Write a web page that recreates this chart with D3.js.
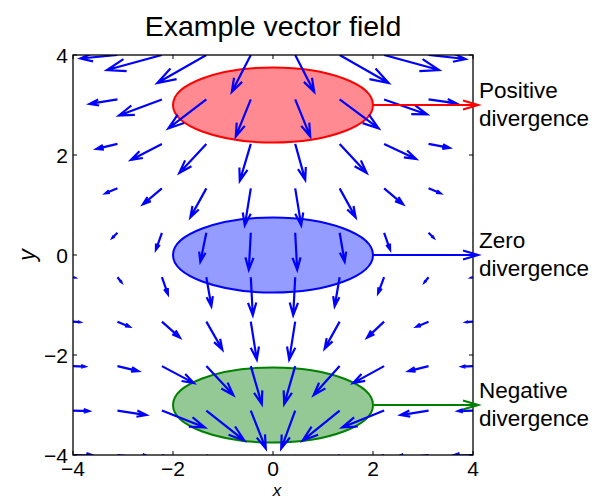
<!DOCTYPE html>
<html>
<head>
<meta charset="utf-8">
<script src="https://cdn.jsdelivr.net/npm/d3@7"></script>
<style>
  html, body { margin: 0; padding: 0; background: #fff; }
  svg { display: block; }
  text { font-family: "Liberation Sans", Arial, Helvetica, sans-serif; fill: #000; }
</style>
</head>
<body>
<svg id="chart" width="610" height="500"></svg>
<script>
// ---------- data ----------
const titleText = "Example vector field";
const xTicks = [-4, -2, 0, 2, 4];
const yTicks = [-4, -2, 0, 2, 4];
const gridX = [-4, -3.111, -2.222, -1.333, -0.444, 0.444, 1.333, 2.222, 3.111, 4];
const gridY = [4, 3.111, 2.222, 1.333, 0.444, -0.444, -1.333, -2.222, -3.111, -4];
// horizontal component, one row per gridY value (data units)
const U = [
  [-0.40, -0.74, -1.10, -0.98, -0.38, 0.38, 0.98, 1.10, 0.74, 0.40],
  [-0.32, -0.56, -0.86, -0.76, -0.30, 0.30, 0.78, 0.86, 0.56, 0.32],
  [-0.22, -0.42, -0.62, -0.54, -0.22, 0.20, 0.54, 0.64, 0.42, 0.22],
  [-0.14, -0.24, -0.38, -0.32, -0.12, 0.12, 0.32, 0.38, 0.24, 0.14],
  [-0.04, -0.10, -0.12, -0.12, -0.04, 0.04, 0.10, 0.12, 0.10, 0.04],
  [ 0.04,  0.08,  0.12,  0.10,  0.04, -0.04, -0.10, -0.12, -0.08, -0.04],
  [ 0.14,  0.24,  0.36,  0.32,  0.12, -0.12, -0.30, -0.34, -0.24, -0.14],
  [ 0.24,  0.42,  0.64,  0.54,  0.22, -0.22, -0.52, -0.62, -0.40, -0.22],
  [ 0.32,  0.58,  0.86,  0.76,  0.30, -0.28, -0.74, -0.84, -0.56, -0.30],
  [ 0.40,  0.74,  1.10,  0.98,  0.38, -0.38, -0.98, -1.10, -0.74, -0.40]
];
// vertical component, one row per gridY value (data units)
const V = [
  [-0.01, -0.07, -0.30, -0.56, -0.74, -0.74, -0.56, -0.30, -0.08, -0.01],
  [-0.01, -0.09, -0.32, -0.58, -0.74, -0.74, -0.58, -0.30, -0.08, -0.01],
  [-0.01, -0.10, -0.32, -0.58, -0.74, -0.72, -0.58, -0.30, -0.08, -0.01],
  [-0.01, -0.10, -0.32, -0.58, -0.74, -0.74, -0.58, -0.32, -0.10, -0.01],
  [-0.01, -0.10, -0.34, -0.58, -0.74, -0.74, -0.58, -0.34, -0.10, -0.01],
  [-0.01, -0.10, -0.34, -0.58, -0.76, -0.76, -0.58, -0.32, -0.10, -0.01],
  [-0.01, -0.10, -0.32, -0.56, -0.76, -0.76, -0.54, -0.32, -0.10, -0.01],
  [-0.01, -0.10, -0.34, -0.58, -0.76, -0.76, -0.58, -0.34, -0.10, -0.01],
  [-0.01, -0.09, -0.34, -0.60, -0.76, -0.76, -0.60, -0.34, -0.09, -0.01],
  [-0.01, -0.09, -0.34, -0.60, -0.76, -0.76, -0.60, -0.34, -0.09, -0.01]
];
const regionCenters = [3, 0, -3];
const regionRx = 2, regionRy = 0.75;
const regionFill = ["#ff8a92", "#949cff", "#94c894"];
const regionStroke = ["#ff0000", "#0000ff", "#008000"];
const regionLabels = [["Positive", "divergence"], ["Zero", "divergence"], ["Negative", "divergence"]];
const pointerEnd = 4.1;

// ---------- layout ----------
const svg = d3.select("#chart");
const L = 73, R = 473, T = 55, B = 455;
const x = d3.scaleLinear().domain([-4, 4]).range([L, R]);
const y = d3.scaleLinear().domain([-4, 4]).range([B, T]);
const fmt = d => (d < 0 ? "\u2212" + Math.abs(d) : String(d));

svg.append("defs").append("clipPath").attr("id", "plotclip")
  .append("rect").attr("x", L).attr("y", T).attr("width", R - L).attr("height", B - T);

// ellipses
const regions = regionCenters.map((c, i) => ({ c, i }));
svg.append("g").selectAll("ellipse").data(regions).join("ellipse")
  .attr("cx", x(0)).attr("cy", d => y(d.c))
  .attr("rx", x(regionRx) - x(0)).attr("ry", y(0) - y(regionRy))
  .attr("fill", d => regionFill[d.i])
  .attr("stroke", d => regionStroke[d.i])
  .attr("stroke-width", 2);

// quiver
const vecs = [];
gridY.forEach((gy, r) => gridX.forEach((gx, c) => vecs.push({ gx, gy, u: U[r][c], v: V[r][c] })));
const alpha = 0.33, beta = 0.33;
function arrowPath(d) {
  const x0 = x(d.gx), y0 = y(d.gy);
  const x1 = x(d.gx + d.u), y1 = y(d.gy + d.v);
  const du = x1 - x0, dv = y1 - y0;
  const h1x = x1 - alpha * (du + beta * dv), h1y = y1 - alpha * (dv - beta * du);
  const h2x = x1 - alpha * (du - beta * dv), h2y = y1 - alpha * (dv + beta * du);
  return `M${x0},${y0}L${x1},${y1}M${h1x},${h1y}L${x1},${y1}L${h2x},${h2y}`;
}
svg.append("g").attr("clip-path", "url(#plotclip)")
  .selectAll("path").data(vecs).join("path")
  .attr("d", arrowPath)
  .attr("fill", "none").attr("stroke", "#0000ff")
  .attr("stroke-width", 2.2).attr("stroke-linecap", "butt").attr("stroke-linejoin", "miter");

// frame
const frame = svg.append("g");
frame.append("rect").attr("x", L).attr("y", T).attr("width", R - L).attr("height", B - T)
  .attr("fill", "none").attr("stroke", "#000").attr("stroke-width", 1.3);

// ticks (inside, all four sides)
const tk = 4;
xTicks.forEach(t => {
  frame.append("line").attr("x1", x(t)).attr("x2", x(t)).attr("y1", B).attr("y2", B - tk).attr("stroke", "#000");
  frame.append("line").attr("x1", x(t)).attr("x2", x(t)).attr("y1", T).attr("y2", T + tk).attr("stroke", "#000");
});
yTicks.forEach(t => {
  frame.append("line").attr("x1", L).attr("x2", L + tk).attr("y1", y(t)).attr("y2", y(t)).attr("stroke", "#000");
  frame.append("line").attr("x1", R).attr("x2", R - tk).attr("y1", y(t)).attr("y2", y(t)).attr("stroke", "#000");
});
svg.append("g").selectAll("text").data(xTicks).join("text")
  .attr("x", d => x(d)).attr("y", B + 21).attr("text-anchor", "middle")
  .style("font-size", "21px").text(fmt);
svg.append("g").selectAll("text").data(yTicks).join("text")
  .attr("x", L - 5).attr("y", d => y(d) + 7.5).attr("text-anchor", "end")
  .style("font-size", "21px").text(fmt);

// pointer arrows and labels
const ptr = svg.append("g");
regions.forEach(d => {
  const yy = y(d.c), x0 = x(regionRx), x1 = x(pointerEnd);
  ptr.append("path")
    .attr("d", `M${x0},${yy}L${x1},${yy}M${x1 - 15},${yy - 4.5}L${x1},${yy}L${x1 - 15},${yy + 4.5}`)
    .attr("fill", "none").attr("stroke", regionStroke[d.i]).attr("stroke-width", 2.2);
  const t = ptr.append("text").attr("x", 479).attr("y", yy - 7).style("font-size", "22.5px");
  regionLabels[d.i].forEach((s, k) => {
    t.append("tspan").attr("x", 479).attr("dy", k === 0 ? 0 : 28).text(s);
  });
});

// title and axis labels
svg.append("text").attr("x", (L + R) / 2).attr("y", 36).attr("text-anchor", "middle")
  .style("font-size", "28.5px").text(titleText);
svg.append("text").attr("x", (L + R) / 2 + 4).attr("y", 496).attr("text-anchor", "middle")
  .style("font-size", "17px").style("font-style", "italic").text("x");
svg.append("text").attr("transform", `translate(35,${(T + B) / 2}) rotate(-90)`)
  .attr("text-anchor", "middle")
  .style("font-size", "23px").style("font-style", "italic").text("y");
</script>
</body>
</html>
